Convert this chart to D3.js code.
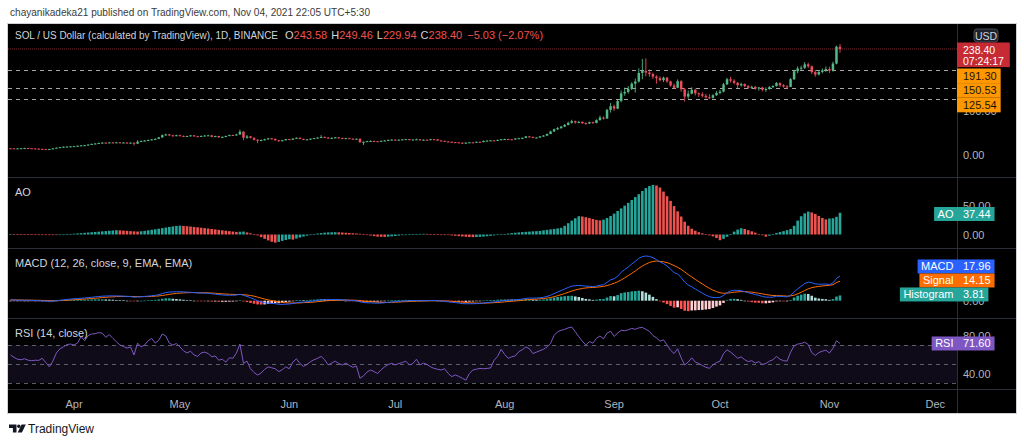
<!DOCTYPE html>
<html><head><meta charset="utf-8">
<script src="https://cdn.jsdelivr.net/npm/d3@7"></script>
<style>
html,body{margin:0;padding:0;background:#fff;}
svg{display:block;font-family:"Liberation Sans",Arial,sans-serif;}
</style></head><body>
<svg id="c" width="1024" height="444"></svg>
<script>
// ---------- DATA (daily bars, 2021-03-14 .. 2021-11-04) ----------
const firstDay = "2021-03-14";
const lastDay = "2021-11-04";
const firstOpen = 15.2;
const closes = [15.0,14.6,14.9,15.3,15.6,15.2,14.7,14.3,13.8,13.3,13.0,13.4,14.9,16.3,17.6,18.5,18.9,19.4,
19.9,20.7,21.6,22.1,23.4,24.9,25.8,26.9,27.8,27.3,28.2,27.6,28.4,27.5,28.0,26.9,27.7,25.4,29.8,31.6,32.5,33.7,35.1,36.2,39.5,44.6,46.3,44.2,43.1,44.5,
43.0,41.7,42.6,44.1,42.3,41.4,42.9,43.7,44.2,40.9,42.6,39.9,40.7,42.8,44.9,44.2,46.1,52.4,38.7,41.8,38.6,34.3,32.4,33.8,35.3,37.4,36.3,33.1,31.6,33.2,35.7,
34.3,36.9,38.7,36.1,34.3,35.2,36.6,37.9,39.0,40.7,39.3,37.7,38.6,39.6,38.3,37.2,37.9,36.7,35.7,36.5,28.6,29.7,31.1,31.6,31.0,30.3,31.8,32.7,33.9,34.6,
33.6,34.4,35.0,35.7,33.9,34.7,35.3,33.1,34.4,33.7,35.5,35.2,32.5,31.9,30.5,29.7,28.9,28.4,27.7,25.9,27.8,28.5,28.3,29.6,29.0,31.7,32.3,32.9,32.1,34.0,35.3,
35.9,35.3,34.7,37.1,37.7,38.5,41.8,40.7,38.9,39.3,41.9,43.6,47.2,52.9,57.8,60.4,63.9,67.8,72.4,76.1,73.2,74.5,71.6,70.9,73.8,72.0,78.5,84.2,82.1,101.5,109.8,
104.2,121.5,138.6,141.9,148.7,160.5,165.2,184.6,189.1,185.4,182.0,176.3,172.8,168.2,173.9,165.6,156.3,151.2,166.0,147.6,131.4,137.8,146.5,138.8,136.4,133.2,129.8,128.6,134.5,139.7,
142.6,158.9,170.4,167.1,162.3,156.8,159.5,154.9,151.2,153.3,149.6,151.8,146.9,148.5,152.6,155.2,161.8,157.0,154.1,153.2,170.5,188.4,194.6,196.2,203.8,199.5,186.3,181.0,186.8,190.5,193.4,
189.8,205.6,243.58,238.40];
const highs = [15.8,15.3,15.4,15.7,16.2,16.0,15.5,15.0,14.6,14.1,13.7,13.9,15.3,16.8,18.0,19.2,19.6,20.1,
20.5,21.3,22.3,22.9,24.1,25.6,26.7,27.8,28.9,28.6,29.1,29.0,29.3,28.9,28.8,28.4,28.5,28.1,33.2,32.4,33.6,34.8,36.2,37.4,40.6,46.1,48.0,47.1,45.4,45.7,
45.6,43.9,43.5,45.0,44.9,43.1,43.8,44.8,45.6,44.9,43.4,43.2,41.8,43.6,45.8,46.0,47.5,57.0,53.6,44.9,43.0,39.5,35.6,35.0,36.6,38.5,38.6,37.0,34.0,33.9,36.4,
36.2,37.5,39.6,39.2,36.8,35.9,37.3,38.6,40.1,44.8,41.6,40.0,39.5,40.5,40.2,38.9,38.6,38.4,37.2,37.1,36.9,30.5,31.9,32.8,32.3,31.6,32.5,33.5,34.6,35.4,
35.1,35.0,35.7,36.4,36.0,35.3,36.9,35.7,34.9,34.8,36.1,36.0,35.6,33.0,32.2,31.0,30.2,29.5,28.9,28.0,28.3,29.0,29.2,30.1,30.2,32.3,33.0,33.6,33.4,34.6,36.0,
36.6,36.4,35.8,37.8,38.6,39.4,42.7,43.0,41.3,40.1,42.6,44.8,48.5,54.6,59.6,62.8,65.5,69.6,75.0,79.3,77.4,76.8,75.3,73.5,75.2,75.0,80.2,88.6,86.5,103.8,117.0,
113.4,124.9,145.2,151.5,155.0,163.7,172.0,194.9,216.0,217.5,192.6,185.3,179.5,177.0,176.4,175.6,167.0,160.5,170.0,168.3,150.5,145.0,152.4,149.6,140.8,141.3,137.5,137.0,136.7,143.8,
146.4,162.3,173.6,175.8,170.5,164.2,162.6,161.0,157.4,155.8,155.1,153.2,153.5,152.0,155.3,157.0,164.0,163.3,159.2,156.9,173.1,191.5,199.3,200.9,209.0,207.5,201.0,191.2,190.4,194.7,199.2,
198.8,210.0,245.9,249.46];
const lows = [14.6,14.2,14.3,14.6,15.0,14.8,14.3,13.9,13.2,12.8,12.5,12.7,13.2,14.6,16.0,17.2,18.0,18.5,
18.9,19.5,20.2,21.0,21.7,23.0,24.3,25.2,26.3,26.5,26.8,26.9,27.1,26.8,27.0,26.2,26.4,21.6,25.0,28.9,30.8,31.9,33.0,34.5,35.8,39.0,43.2,42.6,41.8,42.2,
42.1,40.6,40.9,41.9,41.2,40.2,40.8,42.1,42.9,39.7,40.1,38.6,38.9,40.0,42.2,43.1,43.6,45.5,33.0,36.5,37.2,32.8,26.5,30.9,32.7,34.6,35.2,32.2,30.1,30.8,32.7,
33.6,33.9,36.2,35.4,33.5,33.6,34.7,36.1,37.3,38.5,38.4,36.8,37.0,37.9,37.6,36.5,36.6,35.9,35.0,35.1,27.8,22.4,28.9,30.2,30.1,29.4,29.8,31.1,32.1,33.2,
32.9,33.0,33.8,34.5,33.3,33.4,34.2,32.6,32.8,33.1,33.3,34.6,32.1,31.2,29.9,29.1,28.4,27.8,27.1,24.9,25.3,27.2,27.6,27.9,28.5,28.7,31.0,31.8,31.5,31.8,33.5,
34.8,34.6,34.0,34.3,36.5,37.0,38.0,39.8,38.0,38.2,38.8,41.2,43.0,46.6,51.8,56.2,58.9,62.5,66.4,70.8,70.2,71.6,69.8,68.5,69.6,70.3,71.2,77.4,79.6,81.0,95.5,
98.6,102.8,118.6,133.4,138.2,146.0,140.5,163.0,170.3,176.8,176.1,171.0,160.4,165.5,164.2,162.3,153.8,149.0,150.4,141.9,120.0,126.5,136.5,134.0,130.6,129.5,126.8,125.6,127.1,132.9,
136.4,140.8,157.4,163.0,158.6,150.1,153.7,152.3,148.8,148.5,146.7,144.8,143.2,142.0,146.9,150.6,153.9,153.1,151.4,148.9,152.5,168.7,184.0,190.8,193.5,195.6,182.4,176.1,179.2,183.6,187.0,
184.6,187.5,203.8,229.94];
const aoValues = [0.8,0.7,0.6,0.5,0.4,0.3,0.2,0.1,0.0,-0.2,-0.4,-0.5,-0.6,-0.7,-0.5,
0.0,0.4,0.9,1.4,1.9,2.4,2.9,3.4,3.9,4.4,4.9,5.4,5.9,6.4,6.9,7.4,
7.1,6.7,6.3,5.8,5.4,5.1,
5.6,6.3,7.2,8.1,9.0,10.0,11.0,12.0,13.0,14.0,14.8,15.2,
14.8,14.3,13.7,13.0,12.4,11.7,11.0,10.3,9.5,8.8,8.0,7.2,6.5,5.8,5.1,4.5,
4.8,5.1,3.6,2.0,0.5,-1.5,-4.5,-7.5,-10.2,-12.5,-14.0,-12.8,-11.0,-9.5,-8.2,-8.8,-7.0,-5.2,
-3.5,-2.0,-0.8,0.5,1.6,2.5,3.2,3.6,3.8,3.9,3.7,3.4,3.0,
2.6,2.2,1.8,1.3,0.5,-0.6,-1.8,-2.8,-3.6,-4.0,-4.1,-3.8,-3.2,
-2.6,-1.9,-1.2,-0.5,0.1,0.6,0.9,1.1,1.2,1.1,0.9,0.7,
0.4,0.0,-0.5,-1.0,-1.6,-2.2,-2.8,-3.4,-3.9,-4.3,-4.5,-4.4,-4.1,-3.6,-3.0,
-2.3,-1.5,-0.7,0.1,0.9,1.7,2.4,3.0,3.6,4.1,4.6,5.0,5.4,5.8,6.2,
7.2,8.0,8.8,9.6,10.5,11.5,15.0,19.5,24.0,28.0,31.5,
31.0,29.8,28.3,26.7,25.2,24.3,
25.5,28.5,32.0,36.0,40.5,45.0,49.8,54.5,59.5,64.5,69.5,75.0,80.0,83.5,85.5,
84.5,81.0,74.0,66.0,58.0,49.0,40.0,31.0,22.0,15.0,10.0,6.5,4.0,
2.0,0.3,-1.5,-3.2,-6.0,-9.8,-7.5,-4.0,0.5,5.0,8.5,10.8,
9.5,7.5,5.5,3.2,1.0,-1.2,-3.8,
-2.0,0.8,2.6,4.2,5.8,7.5,9.5,15.0,24.0,31.5,36.5,39.5,
38.0,35.5,32.0,28.5,26.0,27.5,28.0,30.5,37.44];
const macdValues = [0.5,0.4,0.4,0.3,0.3,0.3,0.2,0.1,0.0,-0.1,-0.3,-0.4,-0.3,0.0,0.3,0.6,0.9,1.2,
1.4,1.6,1.8,2.0,2.2,2.5,2.8,3.0,3.3,3.4,3.5,3.5,3.5,3.4,3.3,3.1,3.0,2.6,2.7,2.9,3.1,3.3,3.6,3.9,4.4,5.2,5.9,6.3,6.4,6.5,
6.5,6.4,6.2,6.1,5.9,5.7,5.6,5.5,5.4,5.0,4.8,4.4,4.2,4.0,4.0,4.0,4.1,4.7,3.9,3.1,2.2,1.1,-0.1,-0.9,-1.5,-1.8,-1.9,-2.2,-2.6,-2.7,-2.5,
-2.4,-2.0,-1.4,-1.1,-1.0,-0.8,-0.5,-0.2,0.2,0.6,0.8,0.8,0.8,0.9,0.8,0.6,0.5,0.3,0.1,0.0,-0.8,-1.3,-1.5,-1.6,-1.7,-1.8,-1.7,-1.5,-1.2,-0.9,
-0.7,-0.5,-0.3,-0.1,-0.1,0.0,0.1,0.0,0.0,0.0,0.1,0.2,0.0,-0.2,-0.5,-0.8,-1.1,-1.4,-1.7,-2.1,-2.2,-2.2,-2.2,-2.1,-2.0,-1.7,-1.4,-1.1,-0.9,-0.6,-0.2,
0.1,0.3,0.4,0.7,0.9,1.2,1.7,1.9,1.9,1.9,2.1,2.5,3.1,4.0,5.2,6.3,7.4,8.5,9.6,10.6,10.9,11.1,10.9,10.6,10.5,10.2,10.6,11.3,11.6,13.3,15.2,
15.9,17.8,20.6,22.6,24.5,26.7,28.6,30.8,32.1,32.5,32.2,31.3,29.9,28.2,27.0,25.2,22.9,20.4,19.5,16.8,13.6,11.4,10.2,8.5,7.0,5.5,4.1,2.9,2.4,2.3,
2.4,3.8,5.8,7.1,7.6,7.5,7.2,6.6,5.8,5.2,4.4,3.9,3.1,2.6,2.5,2.6,3.2,3.2,3.0,2.8,4.0,6.3,8.6,10.5,12.5,13.5,13.1,12.2,12.0,12.0,12.1,
11.8,12.8,16.2,17.96];
const signalValues = [0.6,0.6,0.5,0.5,0.4,0.4,0.4,0.3,0.3,0.2,0.1,0.0,0.0,0.0,0.1,0.2,0.3,0.5,
0.7,0.8,1.0,1.2,1.4,1.6,1.8,2.0,2.3,2.5,2.7,2.8,3.0,3.1,3.1,3.1,3.1,3.0,3.0,2.9,3.0,3.0,3.1,3.3,3.5,3.8,4.2,4.6,5.0,5.3,
5.5,5.7,5.8,5.9,5.9,5.8,5.8,5.8,5.7,5.6,5.4,5.2,5.0,4.8,4.7,4.6,4.5,4.5,4.4,4.1,3.8,3.3,2.6,1.9,1.2,0.6,0.1,-0.4,-0.8,-1.2,-1.5,
-1.7,-1.7,-1.7,-1.6,-1.4,-1.3,-1.2,-1.0,-0.7,-0.5,-0.2,0.0,0.2,0.3,0.4,0.4,0.5,0.4,0.4,0.3,0.1,-0.2,-0.5,-0.7,-0.9,-1.1,-1.2,-1.3,-1.3,-1.2,
-1.1,-1.0,-0.8,-0.7,-0.6,-0.5,-0.4,-0.3,-0.2,-0.2,-0.1,-0.1,-0.1,-0.1,-0.2,-0.3,-0.5,-0.6,-0.9,-1.1,-1.3,-1.5,-1.6,-1.7,-1.8,-1.8,-1.7,-1.6,-1.4,-1.3,-1.1,
-0.8,-0.6,-0.4,-0.2,0.0,0.3,0.6,0.8,1.0,1.2,1.4,1.6,1.9,2.3,2.9,3.6,4.4,5.2,6.1,7.0,7.8,8.4,8.9,9.3,9.5,9.6,9.8,10.1,10.4,11.0,11.8,
12.7,13.7,15.1,16.6,18.2,19.9,21.6,23.5,25.2,26.6,27.8,28.5,28.8,28.6,28.3,27.7,26.7,25.5,24.3,22.8,20.9,19.0,17.3,15.5,13.8,12.2,10.5,9.0,7.7,6.6,
5.8,5.4,5.5,5.8,6.2,6.4,6.6,6.6,6.4,6.2,5.8,5.4,5.0,4.5,4.1,3.8,3.7,3.6,3.5,3.3,3.5,4.0,5.0,6.1,7.4,8.6,9.5,10.0,10.4,10.7,11.0,
11.2,11.6,13.2,14.15];
const histValues = [-0.1,-0.2,-0.1,-0.2,-0.1,-0.1,-0.2,-0.2,-0.3,-0.3,-0.4,-0.4,-0.3,0.0,0.2,0.4,0.6,0.7,
0.7,0.8,0.8,0.8,0.8,0.9,1.0,1.0,1.0,0.9,0.8,0.7,0.5,0.3,0.2,0.0,-0.1,-0.4,-0.3,0.0,0.1,0.3,0.5,0.6,0.9,1.4,1.7,1.7,1.4,1.2,
1.0,0.7,0.4,0.2,0.0,-0.1,-0.2,-0.3,-0.3,-0.6,-0.6,-0.8,-0.8,-0.8,-0.7,-0.6,-0.4,0.2,-0.5,-1.0,-1.6,-2.2,-2.7,-2.8,-2.7,-2.4,-2.0,-1.8,-1.8,-1.5,-1.0,
-0.7,-0.3,0.3,0.5,0.4,0.5,0.7,0.8,0.9,1.1,1.0,0.8,0.6,0.6,0.4,0.2,0.0,-0.1,-0.3,-0.3,-0.9,-1.1,-1.0,-0.9,-0.8,-0.7,-0.5,-0.2,0.1,0.3,
0.4,0.5,0.5,0.6,0.5,0.5,0.5,0.3,0.2,0.2,0.2,0.3,0.1,-0.1,-0.3,-0.5,-0.6,-0.8,-0.8,-1.0,-0.9,-0.7,-0.6,-0.4,-0.2,0.1,0.3,0.5,0.5,0.7,0.9,
0.9,0.9,0.8,0.9,0.9,0.9,1.1,1.1,0.9,0.7,0.7,0.9,1.2,1.7,2.3,2.7,3.0,3.3,3.5,3.6,3.1,2.7,2.0,1.3,1.0,0.6,0.8,1.2,1.2,2.3,3.4,
3.2,4.1,5.5,6.0,6.3,6.8,7.0,7.3,6.9,5.9,4.4,2.8,1.1,-0.4,-1.3,-2.5,-3.8,-5.1,-4.8,-6.0,-7.3,-7.6,-7.1,-7.0,-6.8,-6.7,-6.4,-6.1,-5.3,-4.3,
-3.4,-1.6,0.3,1.3,1.4,1.1,0.6,0.0,-0.6,-1.0,-1.4,-1.5,-1.9,-1.9,-1.6,-1.2,-0.5,-0.4,-0.5,-0.5,0.5,2.3,3.6,4.4,5.1,4.9,3.6,2.2,1.6,1.3,1.1,
0.6,1.2,3.0,3.81];
const rsiValues = [59.5,57.0,55.0,54.5,55.5,54.0,53.5,54.0,53.8,56.0,51.5,47.0,53.0,61.6,66.0,68.0,70.5,71.0,
70.0,72.0,78.8,74.5,80.0,81.5,82.0,83.0,82.5,78.0,81.0,77.0,73.5,70.0,68.5,66.8,68.0,59.5,72.0,68.0,70.0,74.5,77.0,72.0,75.0,81.6,79.5,72.0,70.0,71.5,
68.0,64.0,61.6,63.5,59.5,58.0,61.6,62.5,61.0,57.6,58.5,54.0,55.0,52.0,56.5,56.0,61.6,71.0,50.7,53.0,45.0,41.0,38.4,40.5,44.4,47.0,46.0,45.0,42.0,44.0,47.0,
45.0,52.0,55.5,50.5,47.5,49.5,52.5,54.5,56.0,58.0,54.5,49.0,51.0,53.0,50.5,49.0,51.0,48.5,46.5,48.0,35.0,37.5,41.5,43.7,42.0,40.0,44.0,47.0,49.5,50.7,
49.0,50.5,51.5,53.0,49.0,50.5,55.0,49.0,51.0,49.5,47.0,45.4,44.5,43.7,45.0,40.0,36.7,38.5,37.0,35.0,33.0,40.0,43.7,44.5,45.4,45.0,45.4,45.8,54.0,58.0,65.5,
60.0,56.0,57.6,58.5,63.0,65.0,68.0,66.0,61.0,62.5,64.0,65.5,68.0,71.8,80.0,84.0,85.5,86.5,88.0,89.0,84.0,78.7,74.0,70.0,73.5,72.0,77.0,79.5,76.5,82.5,84.5,
79.0,82.5,85.5,85.0,86.0,87.5,86.5,88.0,88.5,86.5,84.5,80.0,77.5,74.0,75.5,70.0,64.5,61.0,66.0,56.5,49.0,52.0,56.5,52.0,50.5,48.5,46.5,45.5,49.0,51.5,
53.0,61.0,65.0,62.5,59.5,56.0,57.5,54.5,52.5,53.5,51.0,52.5,49.5,50.5,53.0,54.5,58.0,55.0,53.5,53.0,62.5,69.0,71.0,71.5,73.0,70.5,62.0,59.0,62.0,63.5,64.5,
61.5,66.5,74.5,71.6];
const priceTicks = [0, 100];
const aoTicks = [0, 50];
const macdTicks = [0];
const rsiTicks = [40, 80];
const rsiLevels = [70, 50, 30];
const priceLines = [191.30, 150.53, 125.54];
const lastPrice = 238.40;
const countdown = "07:24:17";
const monthLabels = ["Apr","May","Jun","Jul","Aug","Sep","Oct","Nov","Dec"];
const headerText = "chayanikadeka21 published on TradingView.com, Nov 04, 2021 22:05 UTC+5:30";
const symbolText = "SOL / US Dollar (calculated by TradingView), 1D, BINANCE";
const ohlc = [["O","243.58"],["H","249.46"],["L","229.94"],["C","238.40"]];
const changeText = "\u22125.03 (\u22122.07%)";
const indicatorNames = {ao:"AO", macd:"MACD (12, 26, close, 9, EMA, EMA)", rsi:"RSI (14, close)"};

// ---------- LAYOUT ----------
const svg = d3.select("#c");
const L = 8, R = 957, RE = 1016, TOP = 24, BOT = 413;
const UP = "#53b987", DN = "#eb4d5c";
const TXT = "#d1d4dc", AXT = "#b2b5be", SEP = "#2a2e39";

const dates = d3.utcDay.range(new Date(firstDay + "T00:00:00Z"), d3.utcDay.offset(new Date(lastDay + "T00:00:00Z"), 1));
const x = d3.scaleUtc().domain([new Date(firstDay + "T00:00:00Z"), new Date(lastDay + "T00:00:00Z")]).range([10.5, 840]);
const yP = d3.scaleLinear().domain([0, 238.4]).range([155, 49]);
const yAO = d3.scaleLinear().domain([0, 50]).range([234.5, 205.5]);
const yM = d3.scaleLinear().domain([0, 17.96]).range([300.7, 276]);
const yR = d3.scaleLinear().domain([30, 70]).range([383, 345]);

// page header
svg.append("text").attr("x", 10).attr("y", 12).attr("dominant-baseline","central")
  .attr("font-size", 10.5).attr("fill", "#3b3b3b").attr("textLength", 360).attr("lengthAdjust","spacingAndGlyphs").text(headerText);

// chart frame
svg.append("rect").attr("x", L-0.5).attr("y", TOP-0.5).attr("width", RE-L+1).attr("height", BOT-TOP+1)
  .attr("fill", "#000").attr("stroke", "#cfd1d6").attr("stroke-width", 1);

const defs = svg.append("defs");
defs.append("clipPath").attr("id","plotclip").append("rect").attr("x",L).attr("y",TOP).attr("width",R-L).attr("height",389-TOP);

// separators
[177, 248, 318, 389].forEach(yy => svg.append("line").attr("x1",L).attr("x2",RE).attr("y1",yy+0.5).attr("y2",yy+0.5).attr("stroke",SEP));
svg.append("line").attr("x1",R+0.5).attr("x2",R+0.5).attr("y1",TOP).attr("y2",BOT).attr("stroke",SEP);

const plot = svg.append("g").attr("clip-path","url(#plotclip)");

// ---------- PRICE PANE ----------
plot.append("line").attr("x1",L).attr("x2",R).attr("y1",yP(lastPrice)).attr("y2",yP(lastPrice))
  .attr("stroke","#7a2630").attr("stroke-width",1).attr("stroke-dasharray","1,1");
plot.selectAll("line.pl").data(priceLines).join("line").attr("class","pl")
  .attr("x1",L).attr("x2",R).attr("y1",d=>Math.round(yP(d))+0.5).attr("y2",d=>Math.round(yP(d))+0.5)
  .attr("stroke","#c9c4c8").attr("stroke-width",1).attr("stroke-dasharray","4,4").attr("opacity",0.85);

const opens = [firstOpen].concat(closes.slice(0, -1));
const bars = dates.map((d,i)=>({d, o:opens[i], h:highs[i], l:lows[i], c:closes[i]}));
plot.selectAll("line.wick").data(bars).join("line").attr("class","wick")
  .attr("x1",b=>x(b.d)).attr("x2",b=>x(b.d)).attr("y1",b=>yP(b.h)).attr("y2",b=>yP(b.l))
  .attr("stroke",b=>b.c>=b.o?UP:DN).attr("stroke-width",0.9);
plot.selectAll("rect.body").data(bars).join("rect").attr("class","body")
  .attr("x",b=>x(b.d)-1.25).attr("width",2.5)
  .attr("y",b=>yP(Math.max(b.o,b.c))).attr("height",b=>Math.max(1, Math.abs(yP(b.o)-yP(b.c))))
  .attr("fill",b=>b.c>=b.o?UP:DN);

// title
svg.append("text").attr("x", 15).attr("y", 35).attr("dominant-baseline","central").attr("font-size", 10)
  .attr("fill", TXT).attr("textLength", 263).attr("lengthAdjust","spacingAndGlyphs").text(symbolText);
const title = svg.append("text").attr("x", 285).attr("y", 35).attr("dominant-baseline","central").attr("font-size", 11);
ohlc.forEach((p,k)=>{
  title.append("tspan").attr("fill", TXT).attr("dx", k===0?0:4).text(p[0]);
  title.append("tspan").attr("fill", "#ef5350").text(p[1]);
});
title.append("tspan").attr("fill","#ef5350").attr("dx",5).text(changeText);

// ---------- AO ----------
plot.selectAll("rect.ao").data(aoValues).join("rect").attr("class","ao")
  .attr("x",(v,i)=>x(dates[i])-1.3).attr("width",2.6)
  .attr("y",v=>Math.min(yAO(0),yAO(v))).attr("height",v=>Math.max(0.6,Math.abs(yAO(v)-yAO(0))))
  .attr("fill",(v,i)=> (i>0 && v<aoValues[i-1]) ? "#ef5350" : "#26a69a");

// ---------- MACD ----------
const histColor = (v,i)=>{
  const p = i>0 ? histValues[i-1] : v;
  if (v >= 0) return v >= p ? "#26a69a" : "#b2dfdb";
  return v < p ? "#ff5252" : "#ffcdd2";
};
plot.selectAll("rect.hist").data(histValues).join("rect").attr("class","hist")
  .attr("x",(v,i)=>x(dates[i])-1.3).attr("width",2.6)
  .attr("y",v=>Math.min(yM(0),yM(v))).attr("height",v=>Math.max(0.6,Math.abs(yM(v)-yM(0))))
  .attr("fill",histColor);
const lineGen = ys => d3.line().x((v,i)=>x(dates[i])).y(v=>ys(v));
plot.append("path").datum(signalValues).attr("d",lineGen(yM)).attr("fill","none").attr("stroke","#ff6d00").attr("stroke-width",1);
plot.append("path").datum(macdValues).attr("d",lineGen(yM)).attr("fill","none").attr("stroke","#2962ff").attr("stroke-width",1);

// ---------- RSI ----------
plot.append("rect").attr("x",L).attr("width",R-L).attr("y",yR(70)).attr("height",yR(30)-yR(70)).attr("fill","rgba(126,87,194,0.12)");
plot.selectAll("line.rl").data(rsiLevels).join("line").attr("class","rl")
  .attr("x1",L).attr("x2",R).attr("y1",d=>Math.round(yR(d))+0.5).attr("y2",d=>Math.round(yR(d))+0.5)
  .attr("stroke","#787b86").attr("stroke-dasharray","4,4").attr("opacity",0.75);
plot.append("path").datum(rsiValues).attr("d",lineGen(yR)).attr("fill","none").attr("stroke","#7e57c2").attr("stroke-width",1);

// pane titles
[["ao",192],["macd",263],["rsi",333]].forEach(([k,yy])=>{
  svg.append("text").attr("x",15).attr("y",yy).attr("dominant-baseline","central").attr("font-size",11).attr("fill",TXT).text(indicatorNames[k]);
});

// ---------- RIGHT AXES ----------
function axisTicks(vals, scale, fmt){
  svg.append("g").selectAll("text").data(vals).join("text")
    .attr("x",963).attr("y",d=>scale(d)).attr("dominant-baseline","central")
    .attr("font-size",11).attr("fill",AXT).text(d=>d3.format(fmt)(d));
}
axisTicks(priceTicks, yP, ".2f");
axisTicks(aoTicks, yAO, ".2f");
axisTicks(macdTicks, yM, ".2f");
axisTicks(rsiTicks, yR, ".2f");

// time axis
const monthDates = d3.utcMonth.range(new Date("2021-04-01T00:00:00Z"), new Date("2021-12-02T00:00:00Z"));
svg.append("g").selectAll("text").data(monthDates).join("text")
  .attr("x",d=>x(d)).attr("y",404).attr("text-anchor","middle").attr("dominant-baseline","central")
  .attr("font-size",11).attr("fill",AXT).text((d,i)=>monthLabels[i]);

function tw(txt, size){ const t = svg.append("text").attr("font-size",size).text(txt); const w = t.node().getComputedTextLength(); t.remove(); return w; }

// USD badge
svg.append("rect").attr("x",974).attr("y",29).attr("width",24).attr("height",13).attr("rx",3)
  .attr("fill","#1e222d").attr("stroke","#434651");
svg.append("text").attr("x",986).attr("y",35.5).attr("text-anchor","middle").attr("dominant-baseline","central")
  .attr("font-size",10.5).attr("fill",TXT).text("USD");

// last price label (two lines)
const lpY = yP(lastPrice);
const lpW = Math.max(tw(lastPrice.toFixed(2),11), tw(countdown,11)) + 10;
svg.append("rect").attr("x",R).attr("y",lpY-6.5).attr("width",lpW).attr("height",24.6).attr("fill","#c62a32");
svg.append("text").attr("x",963).attr("y",lpY+0.8).attr("dominant-baseline","central").attr("font-size",10.5).attr("fill","#fff").text(lastPrice.toFixed(2));
svg.append("text").attr("x",963).attr("y",lpY+12.2).attr("dominant-baseline","central").attr("font-size",10.5).attr("fill","#fff").text(countdown);

// horizontal line labels (stacked)
let cursor = lpY - 6.5 + 24.6 + 1.4;
priceLines.slice().sort((a,b)=>b-a).forEach(p=>{
  const cy = Math.max(yP(p), cursor + 7.3);
  const w = tw(p.toFixed(2),11) + 10;
  svg.append("rect").attr("x",R).attr("y",cy-7.3).attr("width",w).attr("height",14.6).attr("fill","#ff9800");
  svg.append("text").attr("x",963).attr("y",cy).attr("dominant-baseline","central").attr("font-size",11).attr("fill","#1a1405").text(p.toFixed(2));
  cursor = cy + 7.3;
});

// indicator value labels
function indLabel(name, value, cy, color){
  const nw = tw(name,11) + 7, vw = tw(value,11) + 10;
  svg.append("rect").attr("x",R-nw).attr("y",cy-7).attr("width",nw).attr("height",14).attr("fill",color);
  svg.append("rect").attr("x",R).attr("y",cy-7).attr("width",vw).attr("height",14).attr("fill",color);
  svg.append("text").attr("x",R-nw/2).attr("y",cy).attr("text-anchor","middle").attr("dominant-baseline","central").attr("font-size",11).attr("fill","#fff").text(name);
  svg.append("text").attr("x",963).attr("y",cy).attr("dominant-baseline","central").attr("font-size",11).attr("fill","#fff").text(value);
}
const aoLast = aoValues[aoValues.length-1];
indLabel("AO", aoLast.toFixed(2), yAO(aoLast)+1.2, "#26a69a");
const hL = histValues[histValues.length-1], sL = signalValues[signalValues.length-1], mL = macdValues[macdValues.length-1];
const hy = yM(hL) - 1, sy = Math.min(yM(sL), hy - 14), my = Math.min(yM(mL), sy - 14);
indLabel("MACD", mL.toFixed(2), my, "#2962ff");
indLabel("Signal", sL.toFixed(2), sy, "#ff6d00");
indLabel("Histogram", hL.toFixed(2), hy, "#26a69a");
const rL = rsiValues[rsiValues.length-1];
indLabel("RSI", rL.toFixed(2), yR(rL), "#7e57c2");

// ---------- footer logo ----------
const logo = svg.append("g").attr("fill","#131722");
logo.append("path").attr("d","M9 424.5 h7.5 v8 h-3.6 v-4.6 h-3.9 z");
logo.append("circle").attr("cx",18.8).attr("cy",426.3).attr("r",1.7);
logo.append("path").attr("d","M21.6 424.5 h4.2 l-3.9 8 h-4.2 z");
svg.append("text").attr("x",28).attr("y",428.5).attr("dominant-baseline","central").attr("font-size",12).attr("fill","#131722").text("TradingView");
</script>
</body></html>
